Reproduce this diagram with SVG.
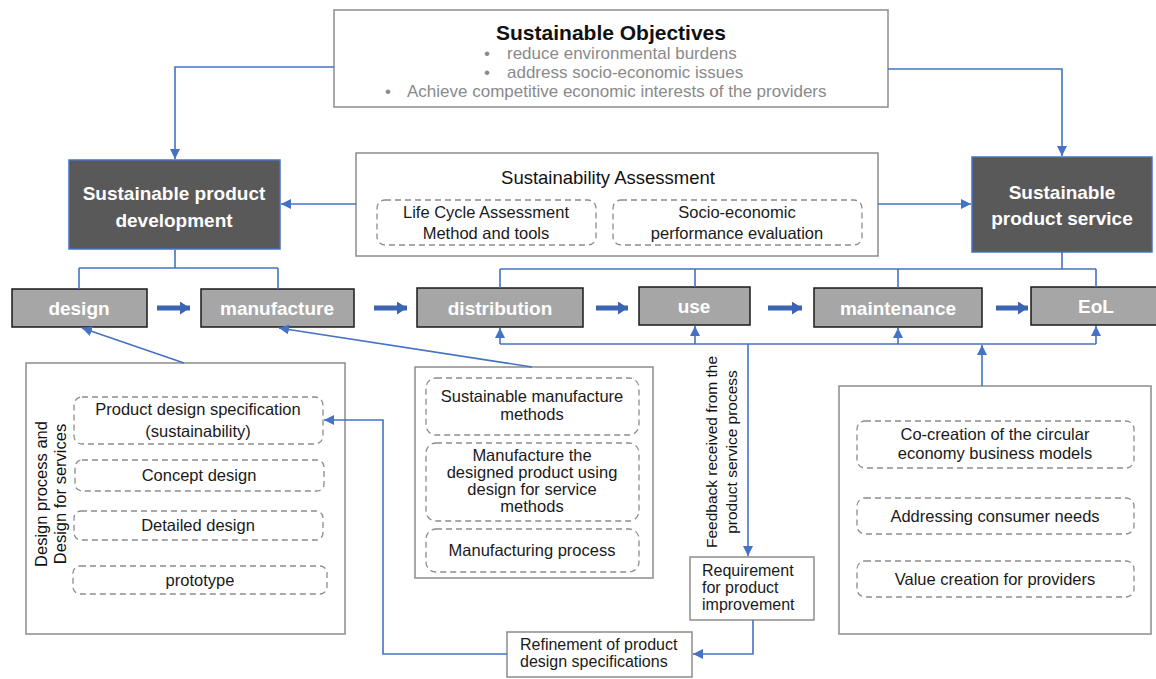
<svg xmlns="http://www.w3.org/2000/svg" width="1156" height="679" viewBox="0 0 1156 679">
<style>
text{font-family:"Liberation Sans",Arial,sans-serif;}
.box{fill:#fff;stroke:#8c8c8c;stroke-width:1.5;}
.dash{fill:#fff;stroke:#8c8c8c;stroke-width:1.3;stroke-dasharray:6 4;}
.dark{fill:#595959;stroke:#4472c4;stroke-width:1.5;}
.stage{fill:#a6a6a6;stroke:#1a1a1a;stroke-width:1.5;}
.wt{fill:#fff;font-weight:bold;font-size:19px;text-anchor:middle;}
.t{fill:#1a1a1a;font-size:16.5px;text-anchor:middle;}
.tl{fill:#1a1a1a;font-size:16px;}
.g{fill:#8a8a8a;font-size:17px;}
.c{fill:none;stroke:#4472c4;stroke-width:1.6;}
.ca{fill:none;stroke:#4472c4;stroke-width:1.6;marker-end:url(#a);}
.thick{fill:none;stroke:#3b64b3;stroke-width:5;marker-end:url(#ta);}
</style>
<defs>
<marker id="a" markerUnits="userSpaceOnUse" markerWidth="12" markerHeight="12" refX="10" refY="5" orient="auto">
<path d="M0,0 L10,5 L0,10 z" fill="#4472c4"/>
</marker>
<marker id="ta" markerUnits="userSpaceOnUse" markerWidth="12" markerHeight="14" refX="10" refY="6.5" orient="auto">
<path d="M0,0 L10,6.5 L0,13 z" fill="#3b64b3"/>
</marker>
</defs>

<g id="objectives">
<rect class="box" x="334" y="10" width="554" height="97"/>
<text x="611" y="40" text-anchor="middle" font-size="21" font-weight="bold" fill="#111">Sustainable Objectives</text>
<text class="g" x="484" y="59">•</text>
<text class="g" x="507" y="59">reduce environmental burdens</text>
<text class="g" x="484" y="78">•</text>
<text class="g" x="507" y="78">address socio-economic issues</text>
<text class="g" x="385" y="97">•</text>
<text class="g" x="407" y="97">Achieve competitive economic interests of the providers</text>
</g>

<g id="spd">
<rect class="dark" x="69" y="160" width="211" height="89"/>
<text class="wt" x="174" y="200">Sustainable product</text>
<text class="wt" x="174" y="227">development</text>
</g>

<g id="sps">
<rect class="dark" x="972" y="157" width="180" height="95"/>
<text class="wt" x="1062" y="199">Sustainable</text>
<text class="wt" x="1062" y="225">product service</text>
</g>

<g id="assessment">
<rect class="box" x="356" y="153" width="522" height="103"/>
<text x="608" y="184" text-anchor="middle" font-size="18.5" fill="#111">Sustainability Assessment</text>
<rect class="dash" x="377" y="200" width="219" height="45" rx="8"/>
<text class="t" x="486" y="218">Life Cycle Assessment</text>
<text class="t" x="486" y="239">Method and tools</text>
<rect class="dash" x="613" y="200" width="249" height="45" rx="8"/>
<text class="t" x="737" y="218">Socio-economic</text>
<text class="t" x="737" y="239">performance evaluation</text>
</g>

<g id="design"><rect class="stage" x="12" y="289" width="135" height="38"/><text class="wt" x="79" y="315">design</text></g>
<g id="manufacture"><rect class="stage" x="201" y="289" width="153" height="38"/><text class="wt" x="277" y="315">manufacture</text></g>
<g id="distribution"><rect class="stage" x="417" y="288" width="166" height="39"/><text class="wt" x="500" y="315">distribution</text></g>
<g id="use"><rect class="stage" x="639" y="287" width="111" height="38"/><text class="wt" x="694" y="313">use</text></g>
<g id="maintenance"><rect class="stage" x="814" y="288" width="168" height="39"/><text class="wt" x="898" y="315">maintenance</text></g>
<g id="eol"><rect class="stage" x="1031" y="287" width="130" height="38"/><text class="wt" x="1096" y="313">EoL</text></g>

<g id="design-process">
<rect class="box" x="26" y="363" width="319" height="271"/>
<text transform="translate(47,494) rotate(-90)" text-anchor="middle" font-size="16.5" fill="#111">Design process and</text>
<text transform="translate(66,494) rotate(-90)" text-anchor="middle" font-size="16.5" fill="#111">Design for services</text>
<rect class="dash" x="74" y="397" width="249" height="47" rx="8"/>
<text class="t" x="198" y="415">Product design specification</text>
<text class="t" x="198" y="437">(sustainability)</text>
<rect class="dash" x="75" y="460" width="249" height="31" rx="7"/>
<text class="t" x="199" y="481">Concept design</text>
<rect class="dash" x="74" y="511" width="249" height="29" rx="7"/>
<text class="t" x="198" y="531">Detailed design</text>
<rect class="dash" x="73" y="566" width="254" height="28" rx="7"/>
<text class="t" x="200" y="586">prototype</text>
</g>

<g id="manufacture-methods">
<rect class="box" x="415" y="367" width="238" height="211"/>
<rect class="dash" x="426" y="378" width="213" height="57" rx="10"/>
<text class="t" x="532" y="402" font-size="16">Sustainable  manufacture</text>
<text class="t" x="532" y="420" font-size="16">methods</text>
<rect class="dash" x="426" y="443" width="213" height="78" rx="10"/>
<text class="t" x="532" y="461" font-size="16">Manufacture the</text>
<text class="t" x="532" y="478" font-size="16">designed product using</text>
<text class="t" x="532" y="495" font-size="16">design for service</text>
<text class="t" x="532" y="512" font-size="16">methods</text>
<rect class="dash" x="426" y="529" width="213" height="43" rx="10"/>
<text class="t" x="532" y="556" font-size="16">Manufacturing process</text>
</g>

<g id="feedback-label">
<text transform="translate(717,452) rotate(-90)" text-anchor="middle" font-size="15.5" fill="#111">Feedback received from the</text>
<text transform="translate(737,452) rotate(-90)" text-anchor="middle" font-size="15.5" fill="#111">product service process</text>
</g>

<g id="requirement">
<rect class="box" x="690" y="557" width="124" height="63"/>
<text class="tl" x="702" y="576">Requirement</text>
<text class="tl" x="702" y="593">for product</text>
<text class="tl" x="702" y="610">improvement</text>
</g>

<g id="refinement">
<rect class="box" x="507" y="632" width="185" height="45"/>
<text class="tl" x="520" y="650">Refinement of product</text>
<text class="tl" x="520" y="667">design specifications</text>
</g>

<g id="service-box">
<rect class="box" x="839" y="386" width="312" height="248"/>
<rect class="dash" x="857" y="421" width="277" height="47" rx="8"/>
<text class="t" x="995" y="440" font-size="17.5">Co-creation of the circular</text>
<text class="t" x="995" y="459" font-size="17.5">economy business models</text>
<rect class="dash" x="857" y="498" width="277" height="36" rx="8"/>
<text class="t" x="995" y="522" font-size="17.5">Addressing consumer needs</text>
<rect class="dash" x="857" y="561" width="277" height="36" rx="8"/>
<text class="t" x="995" y="585" font-size="17.5">Value creation for providers</text>
</g>

<g id="connectors">
<path class="ca" d="M334,67 H175 V159"/>
<path class="ca" d="M888,69 H1062 V156"/>
<path class="ca" d="M356,204 H281"/>
<path class="ca" d="M878,204 H971"/>
<path class="c" d="M175,250 V268 M79,268 H278 M79,268 V289 M278,268 V289"/>
<path class="c" d="M1062,252 V269 M500,269 H1096 M500,269 V288 M695,269 V287 M898,269 V288 M1096,269 V287"/>
<path class="c" d="M500,344 H1096"/>
<path class="ca" d="M500,344 V328"/>
<path class="ca" d="M695,344 V326"/>
<path class="ca" d="M898,344 V328"/>
<path class="ca" d="M1096,344 V326"/>
<path class="ca" d="M982,386 V345"/>
<path class="ca" d="M748,344 V556"/>
<path class="ca" d="M753,620 V654 H693"/>
<path class="ca" d="M507,654 H383 V420 H324"/>
<path class="ca" d="M184,363 L82,328"/>
<path class="ca" d="M532,367 L279,328"/>
<path class="thick" d="M157,308 H190"/>
<path class="thick" d="M374,308 H407"/>
<path class="thick" d="M596,308 H628"/>
<path class="thick" d="M768,308 H802"/>
<path class="thick" d="M996,308 H1028"/>
</g>
</svg>
